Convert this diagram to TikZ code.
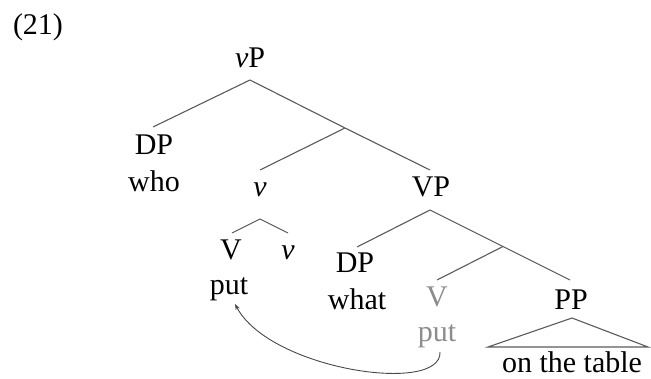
\documentclass[tikz,border=0pt]{standalone}
\usepackage{fontspec}
\setmainfont{Liberation Serif}
\usetikzlibrary{arrows.meta}
\definecolor{edgegray}{HTML}{5A5A5A}
\definecolor{tracegray}{HTML}{8C8C8C}
\tikzset{
  lbl/.style={anchor=base, inner sep=0pt, font=\fontsize{30}{36}\selectfont},
  trace/.style={lbl, text=tracegray},
  edge/.style={draw=edgegray, line width=1.1pt},
  mv/.style={draw=edgegray!80!black, line width=0.9pt, -{Stealth[length=6pt,width=4.5pt]}}
}
\begin{document}
\begin{tikzpicture}[x=1pt,y=-1pt]
\useasboundingbox (0,0) rectangle (651,379);
% labels
\node[lbl] (ex) at (38,35) {(21)};
\node[lbl] (vP) at (250,68) {\textit{v}P};
\node[lbl] (DP1) at (154,155) {DP};
\node[lbl] (who) at (154,192) {who};
\node[lbl] (vbar) at (260,197) {\textit{v}};
\node[lbl] (VP) at (431,197) {VP};
\node[lbl] (V1) at (231,260) {V};
\node[lbl] (v2) at (288,260) {\textit{v}};
\node[lbl] (put1) at (229,295) {put};
\node[lbl] (DP2) at (355,273) {DP};
\node[lbl] (what) at (357,310) {what};
\node[trace] (V2) at (437,307) {V};
\node[trace] (put2) at (437,342) {put};
\node[lbl] (PP) at (571,310) {PP};
\node[lbl] (table) at (572,373) {on the table};
% branching points
\coordinate (vPb) at (250,80);
\coordinate (DP1t) at (153,127);
\coordinate (b1) at (345,128);
\coordinate (vbart) at (260,170);
\coordinate (VPt) at (430,170);
\coordinate (vbarb) at (260,219);
\coordinate (V1t) at (232,233);
\coordinate (v2t) at (288,233);
\coordinate (VPb) at (430,210);
\coordinate (DP2t) at (357,247);
\coordinate (b2) at (503,246.5);
\coordinate (V2t) at (437,280);
\coordinate (PPt) at (570,280);
\coordinate (tri) at (572,318);
\coordinate (triL) at (488,347);
\coordinate (triR) at (648,347);
\coordinate (put2b) at (440,352);
\coordinate (put1b) at (235,304);
% edges
\draw[edge] (DP1t) -- (vPb) -- (b1) -- (VPt);
\draw[edge] (b1) -- (vbart);
\draw[edge] (V1t) -- (vbarb) -- (v2t);
\draw[edge] (DP2t) -- (VPb) -- (b2) -- (PPt);
\draw[edge] (b2) -- (V2t);
\draw[edge] (triL) -- (tri) -- (triR) -- cycle;
% movement arrow
\draw[mv] (put2b) .. controls (442,395) and (270,370) .. (put1b);
\end{tikzpicture}
\end{document}
